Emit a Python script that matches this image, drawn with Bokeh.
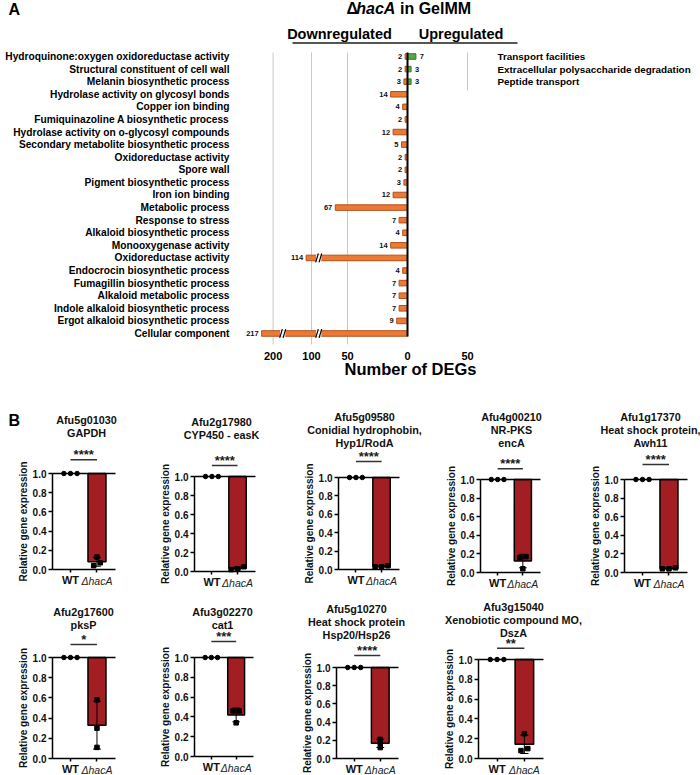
import numpy as np
from bokeh.plotting import figure
from bokeh.models import Range1d, FixedTicker, PrintfTickFormatter
from bokeh.layouts import column, row
from bokeh.embed import file_html
from bokeh.resources import INLINE
from bokeh.core.properties import value

FONT = "Liberation Sans"

# ---------------- Panel A data ----------------
go_terms = [
    "Hydroquinone:oxygen oxidoreductase activity",
    "Structural constituent of cell wall",
    "Melanin biosynthetic process",
    "Hydrolase activity on glycosyl bonds",
    "Copper ion binding",
    "Fumiquinazoline A biosynthetic process",
    "Hydrolase activity on o-glycosyl compounds",
    "Secondary metabolite biosynthetic process",
    "Oxidoreductase activity",
    "Spore wall",
    "Pigment biosynthetic process",
    "Iron ion binding",
    "Metabolic process",
    "Response to stress",
    "Alkaloid biosynthetic process",
    "Monooxygenase activity",
    "Oxidoreductase activity",
    "Endocrocin biosynthetic process",
    "Fumagillin biosynthetic process",
    "Alkaloid metabolic process",
    "Indole alkaloid biosynthetic process",
    "Ergot alkaloid biosynthetic process",
    "Cellular component",
]
down_counts = [2, 2, 3, 14, 4, 2, 12, 5, 2, 2, 3, 12, 67, 7, 4, 14, 114, 4, 7, 7, 7, 9, 217]
up_terms = ["Transport facilities", "Extracellular polysaccharide degradation", "Peptide transport"]
up_counts = [7, 3, 3]
axis_ticks = [-200, -100, -50, 0, 50]
axis_tick_labels = ["200", "100", "50", "0", "50"]
break_values = [90, 175]

# ---------------- Panel B data ----------------
gene_titles = [
    ["Afu5g01030", "GAPDH"],
    ["Afu2g17980", "CYP450 - easK"],
    ["Afu5g09580", "Conidial hydrophobin,", "Hyp1/RodA"],
    ["Afu4g00210", "NR-PKS", "encA"],
    ["Afu1g17370", "Heat shock protein,", "Awh11"],
    ["Afu2g17600", "pksP"],
    ["Afu3g02270", "cat1"],
    ["Afu5g10270", "Heat shock protein", "Hsp20/Hsp26"],
    ["Afu3g15040", "Xenobiotic compound MO,", "DszA"],
]
significance = ["****", "****", "****", "****", "****", "*", "***", "****", "**"]
wt_values = [[1.0, 1.0, 1.0]] * 9
mutant_values = [
    [0.13, 0.07, 0.04],
    [0.05, 0.03, 0.02],
    [0.04, 0.03, 0.03],
    [0.17, 0.16, 0.04],
    [0.05, 0.04, 0.04],
    [0.58, 0.30, 0.11],
    [0.46, 0.46, 0.34],
    [0.21, 0.17, 0.12],
    [0.25, 0.10, 0.08],
]
group_labels = ["WT", "\u0394hacA"]
y_ticks_b = [0, 0.2, 0.4, 0.6, 0.8, 1.0]

# ---------------- styles ----------------
ORANGE = "#EC7A34"
ORANGE_EDGE = "#B44F17"
GREEN = "#57A846"
GREEN_EDGE = "#2F7A2A"
RED = "#A21E23"

# broken axis scale for panel A: value -> display units (1.2 px each)
SCALE_IN = [0, 50, 100, 200, 300]
SCALE_OUT = [0, 50, 80, 112, 168]


def to_axis(v):
    return float(np.sign(v) * np.interp(abs(v), SCALE_IN, SCALE_OUT))


W = 700
PXU = 1.2      # px per display unit
ROWPX = 12.59  # px per row
ZX = 407       # page x of zero
ROW0 = 56      # page y of first row
A_H = 392      # panel A height


def ax_x(px):
    return (px - ZX) / PXU


def ax_y(py):
    return (ROW0 - py) / ROWPX


def txt(p, x, y, t, size, style="bold", align="left", color="black", angle=0.0):
    p.text(x=x if isinstance(x, list) else [x], y=y if isinstance(y, list) else [y],
           text=t if isinstance(t, list) else [t], angle=angle,
           text_align=align, text_baseline="middle", text_font=value(FONT),
           text_font_style=style, text_font_size=size, text_color=color)


# ================= Panel A =================
fa = figure(width=W, height=A_H, output_backend="svg", toolbar_location=None, title=None,
            x_range=Range1d(ax_x(0), ax_x(W)), y_range=Range1d(ax_y(A_H), ax_y(0)),
            min_border=0)
fa.outline_line_color = None
fa.grid.visible = False

n = len(go_terms)
ys = [-i for i in range(n)]

grid_x = [to_axis(t) for t in axis_ticks if t < 0]
fa.segment(x0=grid_x, x1=grid_x, y0=ax_y(52), y1=ax_y(344), line_color="#c8c8c8", line_width=1)
gx_up = [to_axis(t) for t in axis_ticks if t > 0]
fa.segment(x0=gx_up, x1=gx_up, y0=ax_y(52), y1=ax_y(90), line_color="#c8c8c8", line_width=1)

down_left = [-to_axis(v) for v in down_counts]
fa.hbar(y=ys, left=down_left, right=0, height=0.44, fill_color=ORANGE,
        line_color=ORANGE_EDGE, line_width=1)
up_ys = ys[:len(up_counts)]
up_right = [to_axis(v) for v in up_counts]
fa.hbar(y=up_ys, left=0, right=up_right, height=0.44, fill_color=GREEN,
        line_color=GREEN_EDGE, line_width=1)

bx, by = [], []
for yv, v in zip(ys, down_counts):
    for b in break_values:
        if v > b:
            bx.append(-to_axis(b))
            by.append(yv)
fa.hbar(y=by, left=[x - 2.2 for x in bx], right=[x + 2.2 for x in bx], height=0.52,
        fill_color="white", line_color=None)
for off in (-1.4, 1.4):
    fa.segment(x0=[x + off - 1.1 for x in bx], y0=[yv - 0.35 for yv in by],
               x1=[x + off + 1.1 for x in bx], y1=[yv + 0.35 for yv in by],
               line_color="black", line_width=1.2)

fa.segment(x0=[0], x1=[0], y0=[ax_y(52)], y1=[ax_y(336)], line_color="black", line_width=2)

txt(fa, [l - 2.5 for l in down_left], ys, [str(v) for v in down_counts], "7.5px",
    align="right", color="#111111")
txt(fa, [r + 3.3 for r in up_right], up_ys, [str(v) for v in up_counts], "7.5px",
    align="left", color="#111111")
txt(fa, [ax_x(497)] * len(up_terms), up_ys, up_terms, "9.9px")

# header
fa.segment(x0=[ax_x(292)], x1=[ax_x(517)], y0=[ax_y(42.5)], y1=[ax_y(42.5)],
           line_color="#555555", line_width=2)
txt(fa, ax_x(339), ax_y(33), "Downregulated", "14.5px", align="center")
txt(fa, ax_x(460.5), ax_y(33), "Upregulated", "14.5px", align="center")
txt(fa, ax_x(346), ax_y(8), "\u0394", "16px")
txt(fa, ax_x(355.8), ax_y(8), "hacA", "16px", style="bold italic")
txt(fa, ax_x(399.5), ax_y(8), "in GelMM", "16px")
txt(fa, ax_x(8), ax_y(9), "A", "16px")
txt(fa, ax_x(410), ax_y(368), "Number of DEGs", "16.5px", align="center")

tick_pos = [int(round(to_axis(t))) for t in axis_ticks]
fa.xaxis.fixed_location = ax_y(343)
fa.xaxis.ticker = FixedTicker(ticks=tick_pos)
fa.xaxis.major_label_overrides = {k: lab for k, lab in zip(tick_pos, axis_tick_labels)}
fa.xaxis.axis_line_color = None
fa.xaxis.major_tick_line_color = None
fa.xaxis.minor_tick_line_color = None
fa.xaxis.major_label_standoff = 2
fa.xaxis.major_label_text_font = FONT
fa.xaxis.major_label_text_font_style = "bold"
fa.xaxis.major_label_text_font_size = "11px"
fa.xaxis.major_label_text_color = "black"

fa.yaxis.fixed_location = ax_x(238)
fa.yaxis.ticker = FixedTicker(ticks=ys)
fa.yaxis.major_label_overrides = {int(yv): t for yv, t in zip(ys, go_terms)}
fa.yaxis.axis_line_color = None
fa.yaxis.major_tick_line_color = None
fa.yaxis.minor_tick_line_color = None
fa.yaxis.major_label_standoff = 3
fa.yaxis.major_label_text_font = FONT
fa.yaxis.major_label_text_font_style = "bold"
fa.yaxis.major_label_text_font_size = "10.2px"
fa.yaxis.major_label_text_color = "black"

# ================= Panel B =================
XR = (0.32, 2.70)
BAR_W = 0.68
ROW1_TOP, ROW1_H = A_H, 200
ROW2_TOP, ROW2_H = ROW1_TOP + ROW1_H, 775 - (ROW1_TOP + ROW1_H)

# fig_left, fig_top, width, height, axis_x, frame_right, one_y, zero_y,
# sig_off, title_off, title_cx  (page px)
geometry = [
    (0, ROW1_TOP, 150, ROW1_H, 52, 115, 473, 569, 13.7, 40.3, 86),
    (150, ROW1_TOP, 144, ROW1_H, 194, 255, 476, 571, 11.0, 41.7, 221),
    (294, ROW1_TOP, 142, ROW1_H, 338, 399, 477, 569, 16.0, 34.7, 364),
    (436, ROW1_TOP, 144, ROW1_H, 480, 540, 479, 572, 10.7, 36.7, 511),
    (580, ROW1_TOP, 120, ROW1_H, 624, 687, 479, 572, 15.0, 36.7, 650),
    (0, ROW2_TOP, 150, ROW2_H, 52, 115, 657, 758, 13.0, 32.7, 83),
    (150, ROW2_TOP, 142, ROW2_H, 194, 253, 657, 756, 16.0, 32.7, 222),
    (292, ROW2_TOP, 142, ROW2_H, 336, 398, 667, 758, 12.0, 33.0, 356),
    (434, ROW2_TOP, 166, ROW2_H, 478, 543, 659, 758, 11.3, 26.3, 513),
]


def swarm(vals, step=0.25, tol=0.035):
    vals = list(vals)
    order = list(np.argsort(vals))
    offs = [0.0] * len(vals)
    groups, cur = [], [order[0]]
    for k in order[1:]:
        if abs(vals[k] - vals[cur[-1]]) <= tol:
            cur.append(k)
        else:
            groups.append(cur)
            cur = [k]
    groups.append(cur)
    for g in groups:
        m = len(g)
        for j, k in enumerate(g):
            offs[k] = (j - (m - 1) / 2) * step
    return offs


def make_panel(i):
    (fl, ft, w, h, axis_x, frame_r, one_y, zero_y,
     sig_off, title_off, title_cx) = geometry[i]
    unit = zero_y - one_y
    xscale = (XR[1] - XR[0]) / (frame_r - axis_x)

    def dx(px):
        return XR[0] + (px - axis_x) * xscale

    def dy(py):
        return (zero_y - py) / unit

    p = figure(width=w, height=h, output_backend="svg", toolbar_location=None, title=None,
               x_range=Range1d(dx(fl), dx(fl + w)), y_range=Range1d(dy(ft + h), dy(ft)),
               min_border=0)
    p.outline_line_color = None
    p.grid.visible = False

    mut = mutant_values[i]
    wt = wt_values[i]
    m = float(np.mean(mut))
    sd = float(np.std(mut, ddof=1))

    p.vbar(x=[2], bottom=[m], top=[1.0], width=BAR_W, fill_color=RED,
           line_color="black", line_width=1.5)
    p.segment(x0=[XR[0]], x1=[XR[1]], y0=[1.0], y1=[1.0], line_color="black", line_width=1.5)
    p.segment(x0=[2], x1=[2], y0=[m - sd], y1=[m + sd], line_color="black", line_width=1)
    p.segment(x0=[1.85, 1.85], x1=[2.15, 2.15], y0=[m - sd, m + sd], y1=[m - sd, m + sd],
              line_color="black", line_width=1)
    wo = swarm(wt)
    p.scatter(x=[1 + o for o in wo], y=wt, marker="circle", size=4.5, color="black")
    mo = swarm(mut)
    p.scatter(x=[2 + o for o in mo], y=mut, marker="square", size=4.5, color="black")

    # significance bar and stars
    ys_sig = 1.0 + sig_off / unit
    p.segment(x0=[1], x1=[2], y0=[ys_sig], y1=[ys_sig], line_color="#333333", line_width=1.5)
    txt(p, 1.5, 1.0 + (sig_off + 5) / unit, significance[i], "13px", align="center",
        color="#1a1a1a")

    # gene titles
    for j, line in enumerate(reversed(gene_titles[i])):
        txt(p, dx(title_cx), 1.0 + (title_off + 13 * j) / unit, line, "10.8px",
            align="center", color="#111111")

    # labels
    txt(p, 2, -11.5 / unit, group_labels[1], "10.5px", style="italic", align="center",
        color="#222222")
    txt(p, dx(axis_x - 29.5), 0.5, "Relative gene expression", "10px", align="center",
        color="#111111", angle=np.pi / 2)
    if i == 0:
        txt(p, dx(8), dy(420), "B", "16px")

    # axes
    p.xaxis.fixed_location = 0
    p.xaxis.bounds = XR
    p.xaxis.ticker = FixedTicker(ticks=[1, 2])
    p.xaxis.major_label_overrides = {1: group_labels[0], 2: " "}
    p.xaxis.minor_tick_line_color = None
    p.xaxis.major_tick_in = 0
    p.xaxis.major_tick_out = 3
    p.xaxis.axis_line_width = 1.5
    p.xaxis.major_tick_line_width = 1.5
    p.xaxis.major_label_standoff = 1
    p.xaxis.major_label_text_font = FONT
    p.xaxis.major_label_text_font_style = "bold"
    p.xaxis.major_label_text_font_size = "11px"
    p.xaxis.major_label_text_color = "#111111"

    p.yaxis.fixed_location = XR[0]
    p.yaxis.bounds = (0, 1.0)
    p.yaxis.ticker = FixedTicker(ticks=y_ticks_b)
    p.yaxis.formatter = PrintfTickFormatter(format="%.1f")
    p.yaxis.minor_tick_line_color = None
    p.yaxis.major_tick_in = 0
    p.yaxis.major_tick_out = 4
    p.yaxis.axis_line_width = 1.5
    p.yaxis.major_tick_line_width = 1.5
    p.yaxis.major_label_standoff = 2
    p.yaxis.major_label_text_font = FONT
    p.yaxis.major_label_text_font_style = "bold"
    p.yaxis.major_label_text_font_size = "10px"
    p.yaxis.major_label_text_color = "#111111"
    return p


panels = [make_panel(i) for i in range(len(gene_titles))]
layout = column(fa, row(*panels[:5]), row(*panels[5:]))

open("out.html", "w").write(file_html(layout, INLINE))
